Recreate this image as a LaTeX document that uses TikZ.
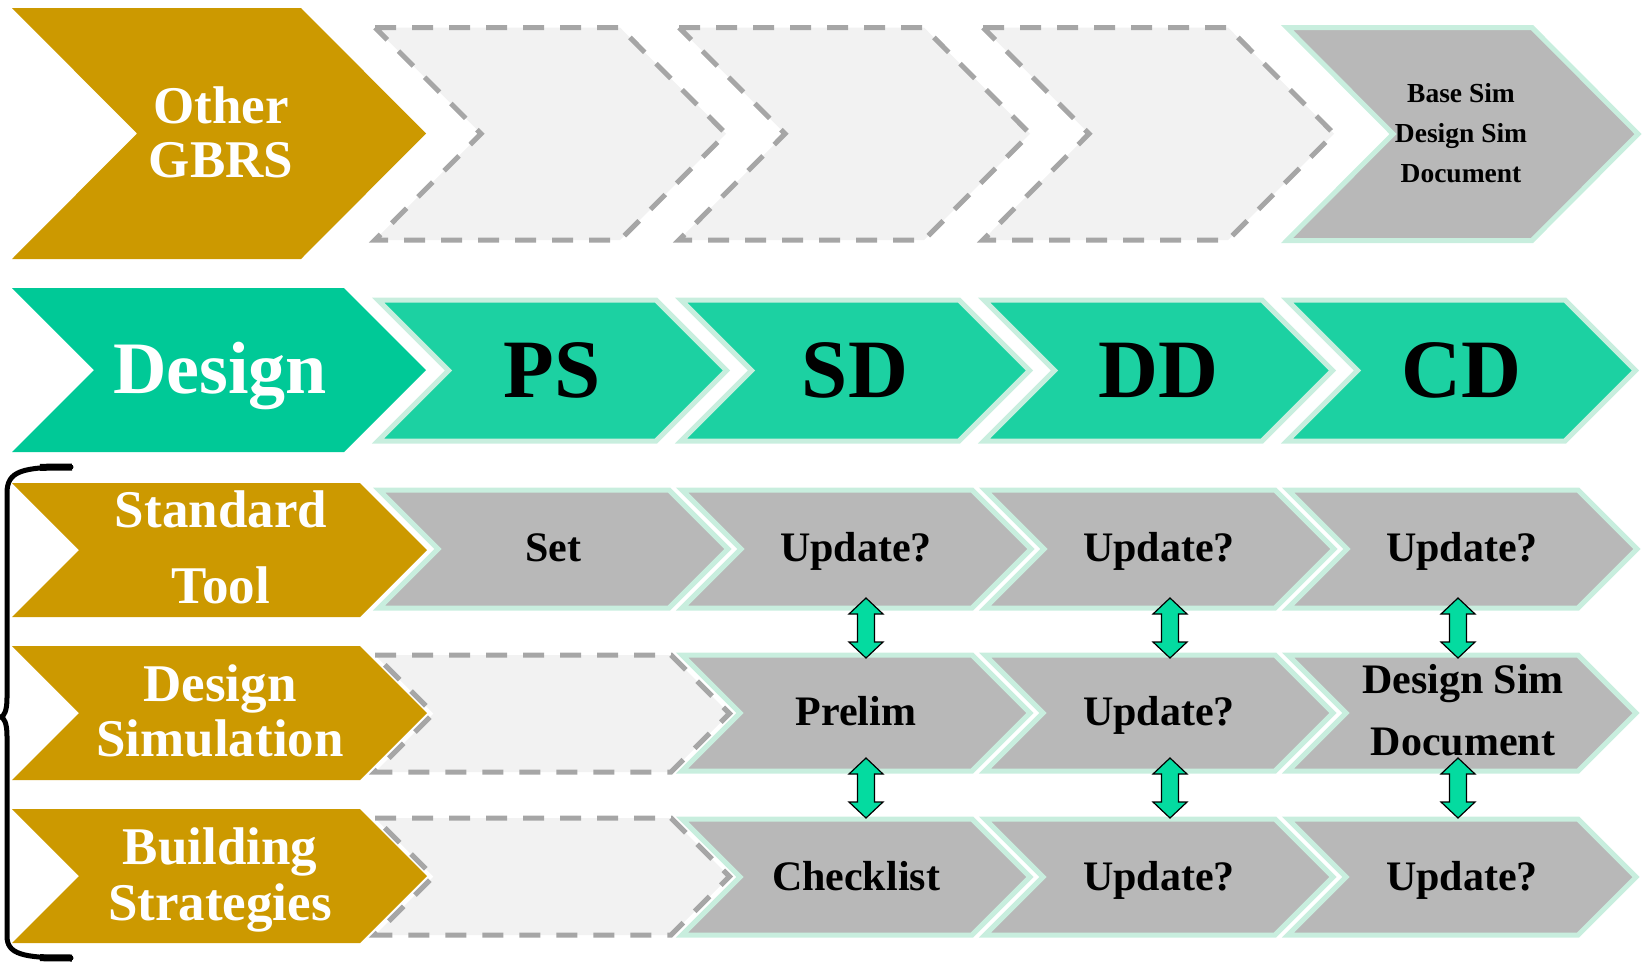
\documentclass[tikz,border=0pt]{standalone}
\usepackage{fontspec}
\setmainfont{Liberation Serif}
\definecolor{gold}{RGB}{204,153,0}
\definecolor{tealdk}{RGB}{0,201,151}
\definecolor{teallt}{RGB}{28,209,162}
\definecolor{mint}{RGB}{200,238,222}
\definecolor{grayfill}{RGB}{184,184,184}
\definecolor{dashfill}{RGB}{242,242,242}
\definecolor{dashline}{RGB}{166,166,166}
\definecolor{arrfill}{RGB}{4,219,160}
\newcommand{\myfs}[1]{\fontsize{#1}{#1}\selectfont\bfseries}
\newcommand{\chevshape}[6][]{\path[#1] (#2,#3) -- ++(#4,0) -- ++(#6,#5/2) -- ++(-#6,#5/2) -- ++(-#4,0) -- ++(#6,-#5/2) -- cycle;}
\tikzset{
  goldsty/.style={fill=gold},
  tealdksty/.style={fill=tealdk},
  tealltsty/.style={fill=teallt, draw=mint, line width=5},
  graysty/.style={fill=grayfill, draw=mint, line width=5},
  dashsty/.style={fill=dashfill, draw=dashline, line width=5, dash pattern=on 21pt off 16pt},
  wtxt/.style={anchor=base, inner sep=0, text=white},
  btxt/.style={anchor=base, inner sep=0, text=black},
  bracesty/.style={draw=black, line width=5, line cap=round},
  braceend/.style={draw=black, line width=7, line cap=butt},
  pics/dblarr/.style={code={\draw[fill=arrfill, draw=black, line width=1.2, line join=miter]
    (0,-30) -- (17,-14) -- (8.5,-14) -- (8.5,14) -- (17,14) -- (0,30) -- (-17,14) -- (-8.5,14) -- (-8.5,-14) -- (-17,-14) -- cycle;}}
}
\begin{document}
\begin{tikzpicture}[x=1pt,y=-1pt]
\useasboundingbox (0,0) rectangle (1643,967);
% ---------- row 1 ----------
\chevshape[goldsty]{12}{8}{289}{251}{125}
\foreach \i in {0,1,2} {\chevshape[dashsty]{375+304*\i}{27.5}{245}{212.5}{106}}
\chevshape[graysty]{1287}{27.5}{245}{213}{106}
% ---------- row 2 ----------
\chevshape[tealdksty]{12}{288}{332}{164}{82}
\foreach \i in {0,...,3} {\chevshape[tealltsty]{378+303*\i}{300}{278}{141}{70.5}}
% ---------- row 3 ----------
\chevshape[goldsty]{12}{483}{348}{134}{67}
\foreach \i in {0,...,3} {\chevshape[graysty]{379+303*\i}{490}{290}{118}{59}}
% ---------- row 4 ----------
\chevshape[goldsty]{12}{646}{348}{134}{67}
\chevshape[dashsty]{375}{655}{296}{117}{58.5}
\foreach \i in {1,2,3} {\chevshape[graysty]{379+303*\i}{655}{290}{116}{58}}
% ---------- row 5 ----------
\chevshape[goldsty]{12}{809}{348}{134}{67}
\chevshape[dashsty]{375}{818}{296}{117}{58.5}
\foreach \i in {1,2,3} {\chevshape[graysty]{379+303*\i}{819}{290}{116}{58}}
% ---------- texts ----------
\node[wtxt,font=\myfs{53}] (t-other) at (221,123) {Other};
\node[wtxt,font=\myfs{53}] (t-gbrs) at (221,177) {GBRS};
\node[btxt,font=\myfs{27.5}] (t-base) at (1461,102) {Base Sim};
\node[btxt,font=\myfs{27.5}] (t-dsim1) at (1461,142) {Design Sim};
\node[btxt,font=\myfs{27.5}] (t-doc1) at (1461,182) {Document};
\node[wtxt,font=\myfs{74}] (t-design) at (220,393) {Design};
\node[btxt,font=\myfs{83}] (t-ps) at (552,397) {PS};
\node[btxt,font=\myfs{83}] (t-sd) at (855,397) {SD};
\node[btxt,font=\myfs{83}] (t-dd) at (1158,397) {DD};
\node[btxt,font=\myfs{83}] (t-cd) at (1461,397) {CD};
\node[wtxt,font=\myfs{53}] (t-standard) at (221,527) {Standard};
\node[wtxt,font=\myfs{53}] (t-tool) at (221,603) {Tool};
\node[btxt,font=\myfs{42}] (t-set) at (553,561) {Set};
\node[btxt,font=\myfs{42}] (t-u31) at (856,561) {Update?};
\node[btxt,font=\myfs{42}] (t-u32) at (1159,561) {Update?};
\node[btxt,font=\myfs{42}] (t-u33) at (1462,561) {Update?};
\node[wtxt,font=\myfs{53}] (t-design2) at (220,701) {Design};
\node[wtxt,font=\myfs{53}] (t-simulation) at (220,756) {Simulation};
\node[btxt,font=\myfs{42}] (t-prelim) at (856,725) {Prelim};
\node[btxt,font=\myfs{42}] (t-u42) at (1159,725) {Update?};
\node[btxt,font=\myfs{42}] (t-dsim2) at (1463,693) {Design Sim};
\node[btxt,font=\myfs{42}] (t-doc2) at (1463,755) {Document};
\node[wtxt,font=\myfs{53}] (t-building) at (220,864) {Building};
\node[wtxt,font=\myfs{53}] (t-strategies) at (220,920) {Strategies};
\node[btxt,font=\myfs{42}] (t-check) at (856,890) {Checklist};
\node[btxt,font=\myfs{42}] (t-u52) at (1159,890) {Update?};
\node[btxt,font=\myfs{42}] (t-u53) at (1462,890) {Update?};
% ---------- double arrows ----------
\pic (a1) at (866,628) {dblarr};
\pic (a2) at (1170,628) {dblarr};
\pic (a3) at (1458,628) {dblarr};
\pic (a4) at (866,788) {dblarr};
\pic (a5) at (1170,788) {dblarr};
\pic (a6) at (1458,788) {dblarr};
% ---------- brace ----------
\draw[bracesty] (71,467) .. controls (22,467) and (7,471) .. (7,493) -- (7,698)
  .. controls (7,711) and (4,716) .. (1,717) .. controls (4,718) and (7,723) .. (7,736)
  -- (7,936) .. controls (7,954) and (22,958) .. (71,958);
\draw[braceend] (72,467) -- (40,467.3);
\draw[braceend] (72,958) -- (40,957.7);
\end{tikzpicture}
\end{document}
